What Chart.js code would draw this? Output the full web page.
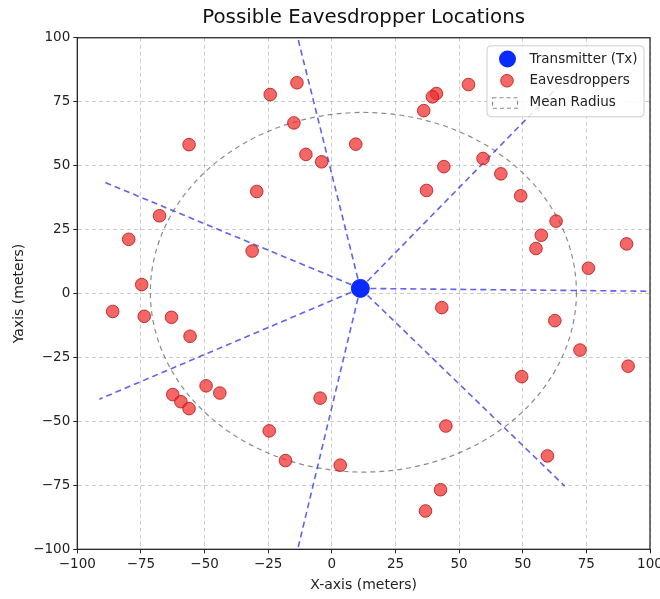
<!DOCTYPE html>
<html>
<head>
<meta charset="utf-8">
<script src="https://cdn.jsdelivr.net/npm/chart.js@4.4.1/dist/chart.umd.min.js"></script>
<style>
  body { margin: 0; background: #fff; }
  #wrap { width: 660px; height: 599px; }
</style>
</head>
<body>
<div id="wrap"><canvas id="canvas" width="660" height="599"></canvas></div>
<script>
// tick labels as printed on the picture (the x axis shows "50" twice)
var xTickLabels = ['\u2212100', '\u221275', '\u221250', '\u221225', '0', '25', '50', '50', '75', '100'];
var yTickLabels = ['\u2212100', '\u221275', '\u221250', '\u221225', '0', '25', '50', '75', '100'];

// x values are on the axis' own step (one gridline = 25), left to right
var txPos = [11.2, 2.0];
var eavesX = [-13.7, -24.2, -14.9, -56.1, 9.4, -10.2, -4.0, -29.5, -67.7, -79.8, -31.3, -74.7,
	53.7, 41.1, 39.5, 36.1, 59.4, 44.0, 66.4, 37.2, 74.2, 88.1, 82.3, 80.2, 115.8, 100.8,
	-86.1, -73.7, -63.0, -55.7, -49.4, -44.0, -62.5, -59.3, -56.1, -4.6, -24.6, -18.2, 3.3,
	43.2, 87.6, 97.5, 116.4, 74.6, 44.8, 84.7, 42.7, 36.8];
var eavesY = [82.4, 77.8, 66.7, 58.2, 58.4, 54.4, 51.5, 39.9, 30.4, 21.2, 16.6, 3.5,
	81.7, 78.2, 76.9, 71.5, 52.8, 49.6, 46.8, 40.3, 38.2, 28.3, 22.8, 17.6, 19.4, 9.9,
	-7.0, -8.9, -9.3, -16.7, -36.1, -38.9, -39.5, -42.3, -45.0, -40.9, -53.7, -65.3, -67.1,
	-5.5, -10.6, -22.1, -28.4, -32.5, -51.8, -63.5, -76.7, -85.0];
var rayEndX = [-13.4, -89.5, 89.8, 125, 91.5, -13.4, -91.3];
var rayEndY = [100, 43.6, 81.8, 0.9, -75.3, -100, -41.3];
var radiusCenter = [12.4, 0.5];
var meanRadiusX = 83.7;
var meanRadiusY = 70.3;

var FONT = 'DejaVu Sans';

var eavesData = [];
for (var i = 0; i < eavesX.length; i++) {
	eavesData.push({x: eavesX[i], y: eavesY[i]});
}

var datasets = [{
	label: 'Transmitter (Tx)',
	data: [{x: txPos[0], y: txPos[1]}],
	backgroundColor: '#0a2bff',
	borderColor: '#0a2bff',
	pointRadius: 9,
	order: 0
}, {
	label: 'Eavesdroppers',
	data: eavesData,
	backgroundColor: 'rgba(240, 45, 45, 0.72)',
	borderColor: 'rgba(190, 25, 25, 0.85)',
	borderWidth: 1,
	pointRadius: 6.3,
	order: 1
}];

for (var r = 0; r < rayEndX.length; r++) {
	datasets.push({
		label: 'ray' + r,
		data: [{x: txPos[0], y: txPos[1]}, {x: rayEndX[r], y: rayEndY[r]}],
		showLine: true,
		borderColor: 'rgba(45, 45, 230, 0.75)',
		borderWidth: 1.6,
		borderDash: [6, 4],
		pointRadius: 0,
		order: 2
	});
}

var decor = {
	id: 'decor',
	beforeDatasetsDraw: function(chart) {
		var ctx = chart.ctx, xs = chart.scales.x, ys = chart.scales.y, a = chart.chartArea;
		var cx = xs.getPixelForValue(radiusCenter[0]);
		var cy = ys.getPixelForValue(radiusCenter[1]);
		var rx = Math.abs(xs.getPixelForValue(radiusCenter[0] + meanRadiusX) - cx);
		var ry = Math.abs(ys.getPixelForValue(radiusCenter[1] + meanRadiusY) - cy);
		ctx.save();
		ctx.beginPath();
		ctx.rect(a.left, a.top, a.right - a.left, a.bottom - a.top);
		ctx.clip();
		ctx.beginPath();
		ctx.ellipse(cx, cy, rx, ry, 0, 0, Math.PI * 2);
		ctx.setLineDash([5, 4]);
		ctx.strokeStyle = 'rgba(100, 100, 100, 0.75)';
		ctx.lineWidth = 1.2;
		ctx.stroke();
		ctx.restore();
	},
	afterDatasetsDraw: function(chart) {
		var ctx = chart.ctx, a = chart.chartArea;
		ctx.save();
		// axes frame
		ctx.setLineDash([]);
		ctx.strokeStyle = '#2a2a2a';
		ctx.lineWidth = 1.3;
		ctx.strokeRect(a.left, a.top, a.right - a.left, a.bottom - a.top);

		// legend box
		var bx = a.right - 163, by = a.top + 8, bw = 157, bh = 71, rad = 4;
		ctx.beginPath();
		ctx.moveTo(bx + rad, by);
		ctx.arcTo(bx + bw, by, bx + bw, by + bh, rad);
		ctx.arcTo(bx + bw, by + bh, bx, by + bh, rad);
		ctx.arcTo(bx, by + bh, bx, by, rad);
		ctx.arcTo(bx, by, bx + bw, by, rad);
		ctx.closePath();
		ctx.fillStyle = 'rgba(255, 255, 255, 0.85)';
		ctx.fill();
		ctx.strokeStyle = 'rgba(200, 200, 200, 0.9)';
		ctx.lineWidth = 1;
		ctx.stroke();

		var mx = bx + 20.5, tx = bx + 42.5;
		ctx.beginPath();
		ctx.arc(mx, by + 13.3, 8.5, 0, Math.PI * 2);
		ctx.fillStyle = datasets[0].backgroundColor;
		ctx.fill();

		ctx.beginPath();
		ctx.arc(mx - 0.5, by + 35, 6.3, 0, Math.PI * 2);
		ctx.fillStyle = datasets[1].backgroundColor;
		ctx.fill();
		ctx.strokeStyle = datasets[1].borderColor;
		ctx.stroke();

		ctx.setLineDash([4, 3]);
		ctx.strokeStyle = 'rgba(100, 100, 100, 0.75)';
		ctx.lineWidth = 1.2;
		ctx.strokeRect(bx + 5.5, by + 52, 25, 10.5);
		ctx.setLineDash([]);

		ctx.fillStyle = '#222';
		ctx.font = '13.5px "' + FONT + '"';
		ctx.textBaseline = 'middle';
		ctx.textAlign = 'left';
		ctx.fillText(datasets[0].label, tx, by + 13.5);
		ctx.fillText(datasets[1].label, tx, by + 35);
		ctx.fillText('Mean Radius', tx, by + 57);
		ctx.restore();
	}
};

var config = {
	type: 'scatter',
	data: {datasets: datasets},
	options: {
		responsive: false,
		animation: false,
		layout: {padding: {left: 0, right: 8.3, top: 0, bottom: 0}},
		plugins: {
			legend: {display: false},
			tooltip: {enabled: false},
			title: {
				display: true,
				text: 'Possible Eavesdropper Locations',
				fullSize: false,
				color: '#111',
				font: {family: FONT, size: 19.8, weight: 'normal'},
				padding: {top: 5.5, bottom: 8.5}
			}
		},
		scales: {
			x: {
				type: 'linear',
				min: -100,
				max: 125,
				afterFit: function(scale) {
					scale.height = 49.7;
					scale.paddingLeft = 0;
					scale.paddingRight = 0;
				},
				ticks: {
					stepSize: 25,
					color: '#222',
					padding: 3,
					maxRotation: 0,
					font: {family: FONT, size: 13.5},
					callback: function(value, index) { return xTickLabels[index]; }
				},
				grid: {
					color: 'rgba(0, 0, 0, 0.2)',
					lineWidth: 1,
					drawTicks: true,
					tickLength: 4,
					tickColor: '#222',
					tickBorderDash: []
				},
				border: {display: true, color: '#222', dash: [4, 3]},
				title: {
					display: true,
					text: 'X-axis (meters)',
					color: '#222',
					font: {family: FONT, size: 14},
					padding: {top: 0, bottom: 5.6}
				}
			},
			y: {
				type: 'linear',
				min: -100,
				max: 100,
				afterFit: function(scale) {
					scale.width = 77.3;
					scale.paddingTop = 0;
					scale.paddingBottom = 0;
				},
				ticks: {
					stepSize: 25,
					color: '#222',
					padding: 3,
					font: {family: FONT, size: 13.5},
					callback: function(value, index) { return yTickLabels[index]; }
				},
				grid: {
					color: 'rgba(0, 0, 0, 0.2)',
					lineWidth: 1,
					drawTicks: true,
					tickLength: 4,
					tickColor: '#222',
					tickBorderDash: []
				},
				border: {display: true, color: '#222', dash: [4, 3]},
				title: {
					display: true,
					text: 'Yaxis (meters)',
					color: '#222',
					font: {family: FONT, size: 14},
					padding: {top: 10.6, bottom: 0}
				}
			}
		}
	},
	plugins: [decor]
};

window.onload = function() {
	window.myScatter = new Chart(document.getElementById('canvas'), config);
};
</script>
</body>
</html>
